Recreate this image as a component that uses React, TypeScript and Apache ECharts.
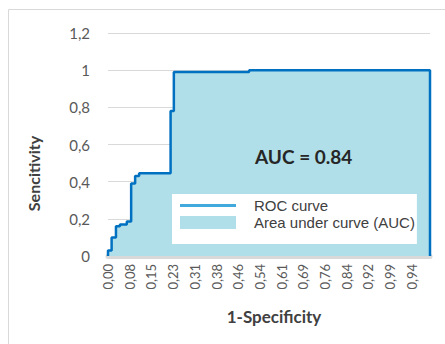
import React, { useEffect, useRef } from "react";
import * as echarts from "echarts";

// Horizontal positions on the x axis (one unit = one category step, labels every 6 steps)
const rocX = [0, 0, 1.0, 2.2, 3.3, 5.2, 6.4, 7.5, 8.6, 17.3, 18.2, 39, 89, 89];
// Sensitivity values of the ROC curve
const rocY = [0, 0.03, 0.1, 0.16, 0.17, 0.185, 0.39, 0.43, 0.445, 0.78, 0.99, 1.0, 1.0, 0];

const xTickLabels = [
  "0,00", "0,08", "0,15", "0,23", "0,31", "0,38", "0,46", "0,54",
  "0,61", "0,69", "0,76", "0,84", "0,92", "0,99", "0,94",
];
const yTickLabels = ["0", "0,2", "0,4", "0,6", "0,8", "1", "1,2"];
const xMax = 89;
const labelStep = 6;
const aucText = "AUC = 0.84";

export default function App() {
  const ref = useRef<HTMLDivElement>(null);
  useEffect(() => {
    if (!ref.current) return;
    const chart = echarts.init(ref.current, undefined, { renderer: "svg" });
    const pts = rocX.map((x, i) => [x, rocY[i]]);
    chart.setOption({
      animation: false,
      backgroundColor: "#ffffff",
      grid: { left: 108, right: 15, top: 33, bottom: 88 },
      xAxis: {
        type: "value",
        min: 0,
        max: xMax,
        interval: labelStep,
        offset: 2,
        axisLine: { show: true, lineStyle: { color: "#d9d9d9", width: 5 } },
        axisTick: { show: false },
        splitLine: { show: false },
        axisLabel: {
          rotate: 90,
          margin: 6,
          fontFamily: "Lato",
          fontSize: 13,
          color: "#595959",
          showMaxLabel: false,
          formatter: (v: number) =>
            v % labelStep === 0 ? xTickLabels[v / labelStep] ?? "" : "",
        },
        name: "1-Specificity",
        nameLocation: "middle",
        nameGap: 50,
        nameTextStyle: {
          fontFamily: "Lato",
          fontWeight: "bold",
          fontSize: 17,
          color: "#404040",
          padding: [0, 0, 0, 10],
        },
      },
      yAxis: {
        type: "value",
        min: 0,
        max: 1.2,
        interval: 0.2,
        axisLine: { show: false },
        axisTick: { show: false },
        splitLine: { lineStyle: { color: "#d9d9d9", width: 1 } },
        axisLabel: {
          margin: 18,
          fontFamily: "Lato",
          fontSize: 15,
          color: "#595959",
          formatter: (v: number) => yTickLabels[Math.round(v / 0.2)] ?? "",
        },
        name: "Sencitivity",
        nameLocation: "middle",
        nameRotate: 90,
        nameGap: 67,
        nameTextStyle: {
          fontFamily: "Lato",
          fontWeight: "bold",
          fontSize: 16,
          color: "#404040",
          padding: [0, 58, 0, 0],
        },
      },
      legend: {
        orient: "vertical",
        left: 172,
        top: 194,
        backgroundColor: "#ffffff",
        padding: [4, 2, 14, 8],
        itemGap: 2,
        itemWidth: 56,
        itemHeight: 13,
        selectedMode: false,
        itemStyle: { borderWidth: 0 },
        textStyle: {
          fontFamily: "Liberation Sans",
          fontSize: 15,
          lineHeight: 15,
          color: "#404040",
          padding: [0, 0, 0, 13],
        },
        data: [
          {
            name: "ROC curve",
            icon: "path://M0,0H56V3H0Z",
            itemStyle: { color: "#41a9dc" },
          },
          {
            name: "Area under curve (AUC)",
            icon: "rect",
            itemStyle: { color: "#b0dfe9" },
          },
        ],
      },
      graphic: [
        {
          type: "rect",
          z: -10,
          silent: true,
          shape: { x: 8.5, y: 9.5, width: 500, height: 400 },
          style: { fill: "none", stroke: "#d9d9d9", lineWidth: 1 },
        },
        {
          type: "text",
          x: 255,
          y: 156,
          z: 10,
          style: {
            text: aucText,
            fontFamily: "Lato",
            fontWeight: "bold",
            fontSize: 19,
            fill: "#262626",
            verticalAlign: "middle",
          },
        },
      ],
      series: [
        {
          name: "Area under curve (AUC)",
          type: "line",
          step: "end",
          data: pts,
          showSymbol: false,
          lineStyle: { width: 0, opacity: 0 },
          areaStyle: { color: "#b0dfe9", opacity: 1 },
          z: 1,
        },
        {
          name: "ROC curve",
          type: "line",
          step: "end",
          data: pts,
          showSymbol: false,
          lineStyle: { color: "#0070c0", width: 2.5 },
          z: 3,
        },
      ],
    });
    return () => chart.dispose();
  }, []);
  return (
    <div
      ref={ref}
      style={{ position: "fixed", left: 0, top: 0, width: 445, height: 344 }}
    />
  );
}
